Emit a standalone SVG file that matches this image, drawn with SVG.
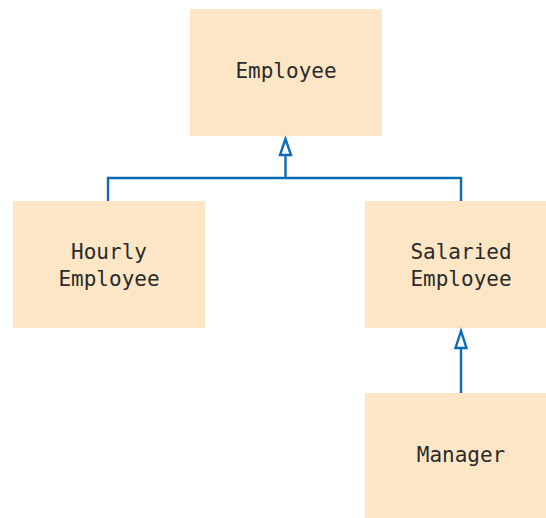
<svg xmlns="http://www.w3.org/2000/svg" width="546" height="518" viewBox="0 0 546 518">
<style>
.box{fill:#fde6c5;}
.t{font-family:"DejaVu Sans Mono","Liberation Mono",monospace;font-size:21px;fill:#2a2a2a;text-anchor:middle;}
.c{fill:none;stroke:#0b6cb5;stroke-width:2.4;}
.h{fill:#fff;stroke:#0b6cb5;stroke-width:2.4;stroke-linejoin:miter;}
</style>
<rect width="546" height="518" fill="#fff"/>
<g id="employee"><rect class="box" x="190" y="9" width="192" height="127"/><text class="t" x="286" y="78">Employee</text></g>
<g id="hourly"><rect class="box" x="13" y="201" width="192" height="127"/><text class="t" x="109" y="259">Hourly</text><text class="t" x="109" y="286">Employee</text></g>
<g id="salaried"><rect class="box" x="365" y="201" width="192" height="127"/><text class="t" x="461" y="259">Salaried</text><text class="t" x="461" y="286">Employee</text></g>
<g id="manager"><rect class="box" x="365" y="393" width="192" height="127"/><text class="t" x="461" y="462">Manager</text></g>
<g id="connectors">
<path class="c" d="M108 201V178H461V201M285.5 178V155"/>
<path class="h" d="M285.5 139L280 155H291Z"/>
<path class="c" d="M461 393V348"/>
<path class="h" d="M461 331L455.5 348H466.5Z"/>
</g>
</svg>
